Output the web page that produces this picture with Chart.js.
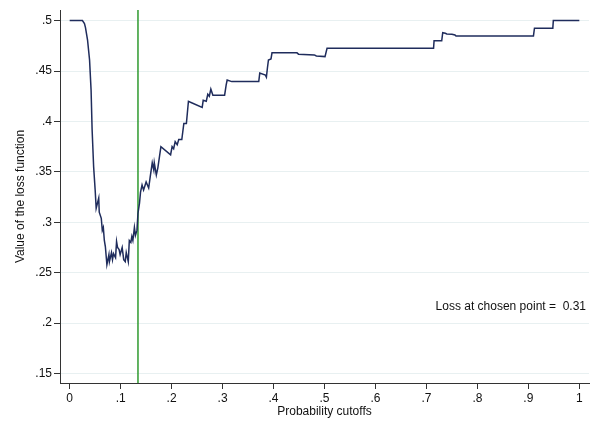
<!DOCTYPE html>
<html>
<head>
  <title>Loss function by cutoff</title>
  <script src="https://cdn.jsdelivr.net/npm/chart.js"></script>
  <style>
    body { margin: 0; background: #fff; }
    #wrap { width: 593px; height: 421px; }
  </style>
</head>
<body>
<div id="wrap"><canvas id="lossChart"></canvas></div>

<script>
// probability cutoffs and loss values
const cutoffs = [
  0, .025, .029, .031, .035, .039, .042, .044, .047, .050, .052, .057, .058, .062, .064, .066,
  .068, .070, .073, .077, .078, .082, .084, .086, .090, .092, .094, .097, .099, .103, .106, .109,
  .111, .115, .117, .120, .122, .124, .127, .129, .132, .134, .137, .139, .142, .145, .150, .155,
  .158, .162, .165, .166, .170, .173, .179, .198, .201, .204, .207, .211, .214, .220, .224, .229,
  .233, .237, .260, .262, .268, .271, .274, .277, .281, .304, .307, .309, .318, .371, .373, .384,
  .386, .388, .390, .395, .397, .446, .449, .480, .484, .501, .505, .714, .715, .730, .732, .737,
  .740, .750, .756, .758, .910, .912, .948, .949, 1
];
const loss = [
  .5, .5, .497, .493, .481, .461, .431, .392, .355, .332, .314, .324, .310, .304, .292, .295,
  .282, .276, .258, .268, .261, .270, .263, .269, .265, .281, .275, .273, .268, .275, .263, .261,
  .270, .261, .282, .280, .286, .282, .295, .287, .292, .309, .319, .330, .337, .332, .340, .334,
  .345, .359, .352, .359, .347, .354, .375, .367, .375, .373, .380, .377, .382, .382, .398, .398,
  .420, .419, .414, .421, .420, .427, .425, .432, .426, .426, .436, .441, .4395, .4395, .448, .446,
  .444, .453, .461, .462, .468, .468, .4667, .466, .465, .4643, .4726, .4726, .480, .480, .488, .4875,
  .4868, .4865, .4858, .4848, .4848, .4925, .4925, .5, .5
];

const chosenCutoff = 0.134;
const chosenLoss = 0.31;

const xTicks = [0, .1, .2, .3, .4, .5, .6, .7, .8, .9, 1];
const xTickLabels = ['0', '.1', '.2', '.3', '.4', '.5', '.6', '.7', '.8', '.9', '1'];
const yTicks = [.15, .2, .25, .3, .35, .4, .45, .5];
const yTickLabels = ['.15', '.2', '.25', '.3', '.35', '.4', '.45', '.5'];

const X_MIN = -0.019, X_MAX = 1.019;
const Y_MIN = 0.1407, Y_MAX = 0.5105;

const FONT = 'Liberation Sans, Arial, Helvetica, sans-serif';

const notePlugin = {
  id: 'note',
  afterDraw(chart) {
    const ctx = chart.ctx;
    const xs = chart.scales.x, ys = chart.scales.y;
    ctx.save();
    ctx.font = '12px ' + FONT;
    ctx.fillStyle = '#111';
    ctx.textAlign = 'right';
    ctx.textBaseline = 'middle';
    ctx.fillText('Loss at chosen point =  ' + chosenLoss.toFixed(2), xs.right - 3, ys.getPixelForValue(0.2163));
    ctx.restore();
  }
};

const ctx = document.getElementById('lossChart').getContext('2d');
new Chart(ctx, {
  type: 'scatter',
  data: {
    datasets: [{
      data: cutoffs.map((c, i) => ({ x: c, y: loss[i] })),
      showLine: true,
      borderColor: '#1f2c5c',
      borderWidth: 1.5,
      pointRadius: 0,
      tension: 0
    }, {
      data: [{ x: chosenCutoff, y: Y_MIN }, { x: chosenCutoff, y: Y_MAX }],
      showLine: true,
      borderColor: '#2f9a2f',
      borderWidth: 1.5,
      pointRadius: 0
    }]
  },
  options: {
    responsive: true,
    maintainAspectRatio: false,
    animation: false,
    layout: { padding: { left: 13, right: 4, top: 10, bottom: 2 } },
    plugins: { legend: { display: false }, tooltip: { enabled: false } },
    scales: {
      x: {
        type: 'linear',
        min: X_MIN,
        max: X_MAX,
        afterBuildTicks: s => { s.ticks = xTicks.map(v => ({ value: v })); },
        afterFit: s => { s.height = 36; },
        grid: { drawOnChartArea: false, drawTicks: true, tickLength: 6, tickColor: '#333' },
        border: { display: true, color: '#333', width: 1 },
        ticks: {
          color: '#111',
          font: { family: FONT, size: 12 },
          padding: 2,
          maxRotation: 0,
          callback: (v, i) => xTickLabels[i]
        },
        title: {
          display: true,
          text: 'Probability cutoffs',
          color: '#111',
          font: { family: FONT, size: 12 },
          padding: { top: 0, bottom: 0 }
        }
      },
      y: {
        type: 'linear',
        min: Y_MIN,
        max: Y_MAX,
        afterBuildTicks: s => { s.ticks = yTicks.map(v => ({ value: v })); },
        afterFit: s => { s.width = 47; },
        grid: { color: '#e8f0f1', lineWidth: 1, drawTicks: true, tickLength: 6, tickColor: '#333' },
        border: { display: true, color: '#333', width: 1 },
        ticks: {
          color: '#111',
          font: { family: FONT, size: 12 },
          padding: 2,
          callback: (v, i) => yTickLabels[i]
        },
        title: {
          display: true,
          text: 'Value of the loss function',
          color: '#111',
          font: { family: FONT, size: 12 },
          padding: { top: 0, bottom: 0 }
        }
      }
    }
  },
  plugins: [notePlugin]
});
</script>
</body>
</html>
